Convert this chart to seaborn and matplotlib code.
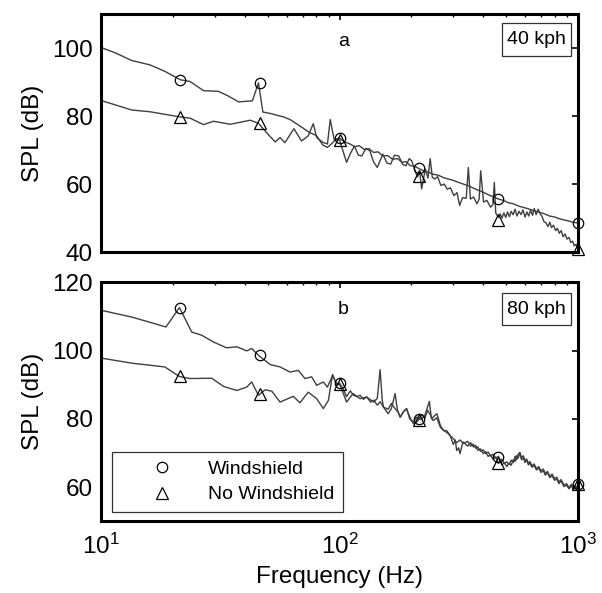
import numpy as np
import matplotlib
matplotlib.use("Agg")
import matplotlib.pyplot as plt
from matplotlib.lines import Line2D
from matplotlib.patches import Rectangle
import seaborn as sns

# ---------------- data ----------------
# Panel a (40 kph)
a_ws_f = [10, 11.5, 13.4, 16.0, 18.5, 21.5, 23.6, 26.9, 31.0, 34.0, 37.7, 43.1, 45.7, 47.7,
          51.2, 55, 58.1, 62, 68.2, 75.2, 80, 85, 89, 93, 97,
          100, 105, 110, 116, 121, 127, 133, 139, 145, 152, 159, 167, 175, 183, 190, 198,
          206, 215, 225, 236, 247, 260, 273, 286, 300, 315, 331, 347, 365, 384, 403, 423,
          443, 464, 487, 511, 536, 565, 593, 621, 655, 690, 721, 760, 800, 836, 880, 920,
          960, 1000]
a_ws_spl = [100.2, 98.6, 96.4, 95.1, 93.2, 90.7, 90.2, 87.5, 87.3, 86.0, 84.2, 84.5, 89.8, 81.2,
            80.8, 80.2, 79.8, 79.0, 77.1, 75.1, 74.3, 71.5, 70.8, 72.0, 73.3,
            73.5, 72.4, 71.9, 71.0, 71.3, 70.2, 70.4, 69.3, 69.5, 68.3, 68.4, 67.3, 67.5, 66.4,
            66.6, 65.4, 65.3, 64.6, 63.9, 63.5, 62.9, 62.6, 61.9, 61.5, 61.1, 60.5, 60.0, 59.5,
            58.8, 58.1, 57.5, 56.8, 56.2, 55.6, 55.2, 54.5, 54.2, 53.5, 53.1, 52.7, 52.1, 51.7,
            51.3, 50.6, 50.3, 49.8, 49.4, 49.1, 48.7, 48.6]

a_nw_f = [10, 13.45, 16, 21.3, 23.6, 26.9, 29.6, 34.8, 42.2, 45.7, 49.5, 53.7, 56.3, 59, 64.4,
          69.3, 73.9, 77.6, 80.2, 85, 89, 91.4, 95, 100,
          107, 111, 115.5, 120, 124, 129, 134, 139, 144, 152, 158, 164, 170, 177, 184, 190,
          196, 201, 207, 212, 217, 221, 229, 235, 240, 245, 251, 258, 266, 275, 283, 292,
          302, 311, 319, 328, 340, 347, 354, 365, 377, 385, 391, 402, 415, 430, 440, 446,
          452, 464, 472, 480, 489, 498, 507, 516, 525, 535, 545, 555, 566, 577, 588, 600,
          611, 622, 633, 645, 656, 668, 681, 695, 707, 720, 734, 749, 762, 775, 790, 806,
          820, 835, 851, 867, 883, 900, 917, 934, 950, 965, 982, 1000]
a_nw_spl = [84.6, 81.8, 81.3, 79.8, 79.4, 77.5, 78.5, 77.6, 78.8, 77.9, 75.1, 72.4, 73.7, 72.2,
            76.3, 72.7, 74.2, 77.8, 73.7, 72.3, 71.8, 79.0, 73.0, 73.0,
            66.4, 69.0, 71.2, 68.5, 68.3, 70.5, 69.8, 66.5, 64.9, 68.8, 66.2, 65.9, 68.5, 68.3,
            65.8, 65.4, 67.5, 66.8, 64.2, 62.1, 63.5, 58.6, 64.4, 61.8, 67.5, 62.0, 61.5, 62.2,
            59.6, 60.0, 58.5, 58.9, 56.6, 57.5, 53.7, 56.0, 55.8, 64.9, 55.6, 56.2, 54.2, 55.5,
            63.9, 54.7, 55.2, 53.2, 54.0, 60.5, 51.5, 50.2, 51.2, 50.0, 51.5, 50.2, 51.8, 50.4,
            52.0, 51.0, 52.6, 50.6, 52.0, 51.0, 52.4, 50.3, 51.8, 50.6, 52.3, 50.8, 52.8, 51.0,
            52.6, 51.2, 50.5, 49.0, 48.6, 47.5, 48.8, 47.2, 47.9, 46.3, 47.0, 45.5, 46.3, 44.5,
            45.3, 43.8, 44.3, 42.8, 43.2, 41.8, 42.3, 40.8]

# Panel b (80 kph)
b_ws_f = [10, 13.45, 16, 18.7, 21.3, 24, 26.4, 29.6, 33.6, 37.1, 40.8, 42.8, 45.7, 51.2, 56.3,
          62, 67.2, 71.6, 76.4, 80.2, 85.5, 88.9, 93.5, 97.3, 100,
          104, 107, 111, 114, 118, 122, 126, 130, 135, 139, 144, 148, 153, 160, 165, 171, 176,
          180, 186, 191, 197, 204, 210, 215, 222, 228, 234, 241, 247, 256, 265, 273, 282, 291,
          300, 310, 320, 330, 345, 355, 364, 372, 380, 390, 401, 410, 420, 430, 440, 452, 464,
          472, 480, 491, 503, 514, 525, 535, 545, 553, 560, 571, 580, 590, 600, 610, 620, 629,
          642, 655, 670, 685, 700, 716, 730, 745, 762, 780, 797, 815, 832, 850, 873, 897, 918,
          940, 955, 970, 985, 1000]
b_ws_spl = [111.8, 109.8, 108.3, 106.9, 112.6, 105.4, 104.5, 102.5, 100.8, 101.1, 99.9, 100.6,
            98.6, 95.9, 95.2, 93.7, 94.2, 91.8, 92.3, 89.8, 90.8, 89.3, 92.7, 90.3, 90.5,
            88.5, 86.5, 88.2, 87.0, 86.5, 86.9, 85.7, 86.4, 84.9, 85.5, 84.0, 85.0, 83.4, 82.8,
            84.5, 83.0, 82.0, 80.5, 82.2, 83.0, 80.0, 79.0, 80.5, 80.0, 81.2, 80.2, 82.5, 81.0,
            79.5, 80.3, 77.5, 76.6, 76.0, 75.1,
            74.2, 73.0, 73.8, 72.8, 73.4, 72.0, 72.6, 71.4, 71.8, 70.5, 70.9, 69.8, 70.3, 69.1,
            69.6, 68.5, 69.0, 67.6, 68.2, 66.9, 67.4, 66.6, 67.9, 67.2, 69.0, 68.0, 69.5, 70.2,
            68.6, 69.2, 67.8, 68.2, 66.9, 67.5, 66.2, 66.8, 65.4, 66.0, 64.8, 65.3, 64.0, 64.6,
            63.2, 63.8, 62.5, 62.9, 61.5, 62.2, 60.6, 61.0, 59.8, 60.9, 59.6, 60.4, 59.7, 60.8]

b_nw_f = [10, 13.45, 18.5, 21.3, 23.6, 29.1, 32.6, 37.1, 40.8, 42.8, 45.7, 48.7, 52, 56.3, 64,
          68.2, 73.9, 80.2, 85.5, 89.8, 93.5, 97.3, 100,
          103.8, 107, 114, 122, 130, 139, 144, 148, 151, 153, 160, 165, 171, 175, 179.5, 185,
          191, 198, 204, 210, 215, 222, 228, 238, 243, 247, 256, 265, 273, 282, 291,
          300, 306, 310, 316, 320, 326, 330, 345, 355, 364, 372, 380, 390, 401, 410, 420, 430,
          440, 452, 464, 472, 480, 491, 503, 514, 525, 535, 545, 553, 560, 571, 580, 590, 600,
          610, 620, 629, 642, 655, 670, 685, 700, 716, 730, 745, 762, 780, 797, 815, 832, 850,
          873, 897, 918, 940, 955, 970, 985, 1000]
b_nw_spl = [97.8, 96.3, 95.2, 92.4, 91.8, 91.9, 89.5, 88.3, 89.3, 90.8, 86.9, 88.5, 88.1, 84.9,
            86.6, 84.7, 87.8, 85.9, 83.0, 85.4, 93.0, 89.8, 90.2,
            87.4, 84.9, 87.4, 85.9, 86.4, 84.9, 86.0, 94.4, 85.5, 83.4, 81.5, 83.0, 87.4, 82.5,
            80.5, 82.0, 83.0, 80.2, 78.6, 79.0, 79.8, 80.0, 81.0, 85.1, 80.0, 80.5, 81.5, 78.0,
            76.6, 76.5, 75.1,
            72.5, 73.8, 70.7, 71.5, 69.8, 72.0, 73.2, 72.0, 73.0, 71.8, 72.2, 70.8, 71.2, 69.8,
            70.4, 69.0, 69.4, 68.2, 68.8, 67.0, 68.0, 66.5, 67.2, 66.0, 67.0, 66.4, 68.0, 67.5,
            69.2, 68.4, 69.8, 68.0, 68.6, 67.2, 67.9, 66.5, 67.0, 65.8, 66.4, 65.0, 65.6, 64.3,
            64.8, 63.5, 64.2, 62.8, 63.3, 62.0, 62.4, 61.0, 61.8, 60.2, 60.5, 59.5, 60.4, 59.2,
            60.0, 59.4, 60.5]

# Marker positions
mark_f = [21.5, 46.4, 100, 215, 464, 1000]
a_ws_mark = [90.7, 89.8, 73.5, 64.6, 55.6, 48.6]
a_nw_mark = [79.8, 77.9, 73.0, 62.3, 49.3, 40.9]
b_ws_mark = [112.6, 98.6, 90.5, 80.0, 68.9, 61.0]
b_nw_mark = [92.6, 87.2, 90.3, 79.8, 67.0, 61.0]

panel_letters = ["a", "b"]
speed_labels = ["40 kph", "80 kph"]
legend_labels = ["Windshield", "No Windshield"]
a_yticks = [40, 60, 80, 100]
b_yticks = [60, 80, 100, 120]

# ---------------- style ----------------
sns.set_style("white")
plt.rcParams["font.family"] = ["Liberation Sans", "DejaVu Sans"]
plt.rcParams["mathtext.default"] = "regular"
for key in ["text.color", "axes.labelcolor", "xtick.color", "ytick.color"]:
    plt.rcParams[key] = "black"

LINE_C = "#3f3f3f"
FS = 17.5

fig = plt.figure(figsize=(6.02, 5.93), dpi=100)
ax_a = fig.add_axes([0.168, 0.575, 0.792, 0.401])
ax_b = fig.add_axes([0.168, 0.121, 0.792, 0.403])

panels = [
    (ax_a, a_ws_f, a_ws_spl, a_nw_f, a_nw_spl, a_ws_mark, a_nw_mark, (40, 110), a_yticks,
     (0.840, 0.824, 0.145, 0.138)),
    (ax_b, b_ws_f, b_ws_spl, b_nw_f, b_nw_spl, b_ws_mark, b_nw_mark, (50, 120), b_yticks,
     (0.840, 0.820, 0.145, 0.136)),
]

for i, (ax, wf, ws, nf, ns, wm, nm, ylim, yt, box) in enumerate(panels):
    sns.lineplot(x=nf, y=ns, ax=ax, color=LINE_C, linewidth=1.0, estimator=None, sort=False)
    sns.lineplot(x=wf, y=ws, ax=ax, color=LINE_C, linewidth=1.0, estimator=None, sort=False)
    sns.lineplot(x=mark_f, y=wm, ax=ax, marker="o", linestyle="", markersize=7.5,
                 markerfacecolor="none", markeredgecolor="black", markeredgewidth=0.9,
                 estimator=None, sort=False, clip_on=False)
    sns.lineplot(x=mark_f, y=nm, ax=ax, marker="^", linestyle="", markersize=8,
                 markerfacecolor="none", markeredgecolor="black", markeredgewidth=0.9,
                 estimator=None, sort=False, clip_on=False)
    ax.set_xscale("log")
    ax.set_xlim(10, 1000)
    ax.set_ylim(*ylim)
    ax.set_yticks(yt)
    ax.set_xticks([10, 100, 1000])
    ax.set_xticklabels([r"$10^1$", r"$10^2$", r"$10^3$"])
    ax.tick_params(which="both", direction="in", top=True, right=True, labelsize=FS)
    ax.tick_params(which="major", length=4, width=1.2, pad=6)
    ax.tick_params(which="minor", length=2.5, width=1)
    ax.tick_params(axis="x", which="major", pad=9)
    for sp in ax.spines.values():
        sp.set_linewidth(2.2)
        sp.set_color("black")
    ax.set_ylabel("SPL (dB)", fontsize=FS, labelpad=6)
    ax.set_xlabel("")
    ax.text(0.508, 0.885, panel_letters[i], transform=ax.transAxes, ha="center", va="center",
            fontsize=14)
    ax.add_patch(Rectangle((box[0], box[1]), box[2], box[3], transform=ax.transAxes,
                           facecolor="white", edgecolor="#333333", linewidth=0.9, zorder=5))
    ax.text(box[0] + box[2] / 2, box[1] + box[3] / 2, speed_labels[i], transform=ax.transAxes,
            ha="center", va="center", fontsize=14, zorder=6)

ax_a.tick_params(axis="x", labelbottom=False)
ax_b.set_xlabel("Frequency (Hz)", fontsize=FS, labelpad=5)

handles = [
    Line2D([], [], marker="o", linestyle="", markersize=7.5, markerfacecolor="none",
           markeredgecolor="black", markeredgewidth=0.9),
    Line2D([], [], marker="^", linestyle="", markersize=8, markerfacecolor="none",
           markeredgecolor="black", markeredgewidth=0.9),
]
leg = ax_b.legend(handles, legend_labels, loc="lower left",
                  bbox_to_anchor=(0.023, 0.038, 0.484, 0.24), mode="expand",
                  borderaxespad=0, fontsize=14, handlelength=4.2, handletextpad=0.3,
                  labelspacing=0.4, borderpad=0.45, fancybox=False, framealpha=1,
                  edgecolor="#333333")
leg.get_frame().set_linewidth(0.9)

fig.savefig("out.png", dpi=100)
